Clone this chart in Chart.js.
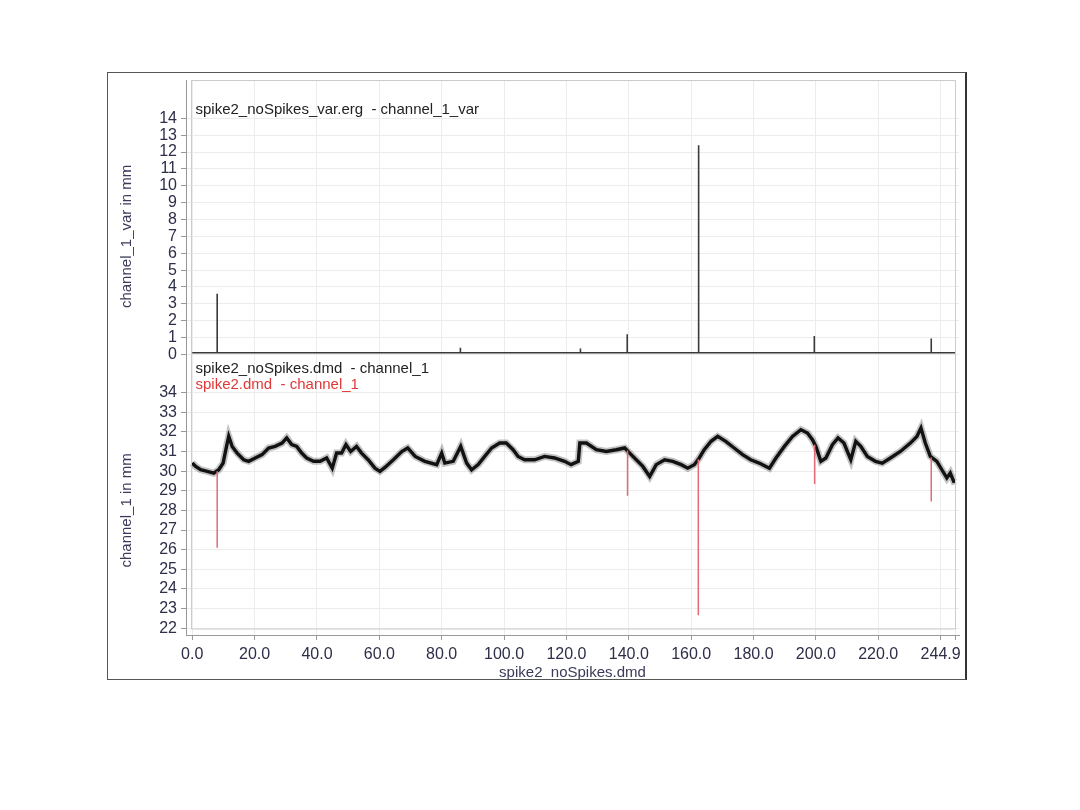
<!DOCTYPE html>
<html>
<head>
<meta charset="utf-8">
<script src="https://cdn.jsdelivr.net/npm/chart.js@4.4.1/dist/chart.umd.min.js"></script>
<style>
  html, body { margin: 0; padding: 0; background: #fff; }
  #wrap { position: relative; width: 1080px; height: 810px; }
  #frame {
    position: absolute; left: 107px; top: 72px; width: 857px; height: 606px;
    border: 1px solid #555; border-right: 2px solid #333; pointer-events: none;
  }
</style>
</head>
<body>
<div id="wrap">
  <canvas id="c" width="1080" height="810"></canvas>
  <div id="frame"></div>
</div>
<script>
// x range of the record
const xEnd = 244.9;
const xTicks = [0, 20, 40, 60, 80, 100, 120, 140, 160, 180, 200, 220, 240, 244.9];

// upper panel: channel_1_var spikes
const varT = [8.0, 86.0, 124.5, 139.5, 162.4, 199.5, 237.0];
const varV = [3.6, 0.4, 0.35, 1.2, 12.4, 1.1, 0.95];
const varBase = 0.1;

// lower panel: channel_1 without spikes
const dmdT = [0.0, 1.1, 2.7, 4.8, 6.9, 8.5, 9.9, 11.0, 11.7, 12.8, 14.4, 16.5, 18.1, 20.2, 22.4, 24.5,
  26.6, 28.8, 30.3, 31.9, 33.5, 35.1, 36.7, 38.9, 41.0, 43.1, 44.9, 46.3, 47.9, 49.3, 50.8, 52.7,
  54.3, 56.4, 58.6, 60.2, 61.9, 64.5, 67.2, 69.1, 71.5, 74.6, 78.4, 80.0, 81.0, 83.7, 86.1, 88.0,
  89.6, 91.7, 93.8, 96.0, 98.6, 100.7, 102.9, 104.5, 106.6, 109.8, 113.0, 116.2, 119.4, 121.5, 123.8,
  124.3, 126.4, 129.6, 132.8, 136.0, 138.7, 140.3, 142.4, 144.5, 146.7, 148.8, 151.5, 154.1, 156.8,
  158.9, 161.0, 162.6, 164.2, 166.4, 168.5, 171.1, 173.8, 176.5, 179.1, 181.8, 185.1, 187.2, 189.9,
  192.5, 195.2, 197.3, 198.9, 200.0, 201.6, 203.2, 205.3, 207.1, 209.0, 211.2, 212.8, 214.4, 216.5,
  219.1, 221.3, 223.9, 227.1, 230.3, 232.4, 233.7, 235.1, 236.7, 238.8, 240.4, 242.0, 243.1, 244.2, 244.9];
const dmdV = [30.41, 30.24, 30.07, 29.99, 29.9, 30.07, 30.41, 31.26, 31.77, 31.26, 30.92, 30.58, 30.5, 30.67, 30.84, 31.18,
  31.26, 31.43, 31.69, 31.35, 31.26, 30.92, 30.67, 30.5, 30.5, 30.67, 30.15, 30.92, 30.92, 31.35, 31.0, 31.26,
  30.92, 30.58, 30.15, 29.99, 30.2, 30.58, 31.0, 31.18, 30.75, 30.5, 30.33, 30.92, 30.41, 30.5, 31.26, 30.41,
  30.07, 30.33, 30.75, 31.18, 31.43, 31.43, 31.09, 30.75, 30.58, 30.58, 30.75, 30.67, 30.5, 30.33, 30.5,
  31.43, 31.43, 31.09, 31.0, 31.09, 31.18, 30.92, 30.58, 30.24, 29.73, 30.33, 30.58, 30.5, 30.33,
  30.15, 30.33, 30.67, 31.09, 31.52, 31.77, 31.52, 31.18, 30.84, 30.58, 30.41, 30.15, 30.67, 31.26,
  31.77, 32.11, 31.94, 31.6, 31.26, 30.5, 30.67, 31.35, 31.69, 31.43, 30.58, 31.52, 31.26, 30.75,
  30.5, 30.41, 30.67, 31.0, 31.43, 31.77, 32.2, 31.43, 30.75, 30.5, 30.07, 29.65, 29.9, 29.48, 29.5];

// original channel_1: spikes that were removed
const spikeT = [8.0, 139.6, 162.3, 199.6, 237.0];
const spikeTop = [30.0, 31.05, 30.6, 31.35, 30.7];
const spikeLow = [26.1, 28.75, 22.65, 29.35, 28.45];

const varPts = [{ x: 0, y: varBase }];
varT.forEach((t, i) => {
    varPts.push({ x: t, y: varBase }, { x: t, y: varV[i] }, { x: t, y: varBase });
});
varPts.push({ x: xEnd, y: varBase });

const dmdPts = dmdT.map((t, i) => ({ x: t, y: dmdV[i] }));

const redPts = [];
spikeT.forEach((t, i) => {
    redPts.push({ x: t, y: spikeTop[i] }, { x: t, y: spikeLow[i] }, { x: t, y: null });
});

const tickFont = { family: 'Liberation Sans, Arial', size: 16 };
const tickColor = '#2e2e48';
const gridColor = '#ececec';

const decor = {
    id: 'decor',
    afterDraw(chart) {
        const { ctx, scales, chartArea } = chart;
        const x = scales.x, yt = scales.yTop, yb = scales.yBot;
        ctx.save();
        // inner plot frame
        ctx.strokeStyle = '#cccccc';
        ctx.lineWidth = 1;
        const l = Math.round(x.getPixelForValue(0)) - 0.5;
        const r = Math.round(x.getPixelForValue(xEnd)) - 0.5;
        const b = Math.round(yb.getPixelForValue(22)) + 0.5;
        ctx.strokeRect(l, chartArea.top + 0.5, r - l, b - chartArea.top);

        // series captions
        ctx.font = '15px Liberation Sans, Arial';
        ctx.textBaseline = 'middle';
        ctx.textAlign = 'left';
        ctx.fillStyle = '#222';
        ctx.fillText('spike2_noSpikes_var.erg  - channel_1_var', l + 4, yt.getPixelForValue(14) - 8);
        ctx.fillText('spike2_noSpikes.dmd  - channel_1', l + 4, yb.getPixelForValue(34) - 24);
        ctx.fillStyle = '#e03838';
        ctx.fillText('spike2.dmd  - channel_1', l + 4, yb.getPixelForValue(34) - 8);

        // y axis titles, centred on the tick range
        ctx.fillStyle = '#3a3a5a';
        ctx.textAlign = 'center';
        const tx = chartArea.left - 59;
        [[yt, 0, 14, 'channel_1_var in mm'], [yb, 22, 34, 'channel_1 in mm']].forEach(([s, lo, hi, txt]) => {
            const cy = (s.getPixelForValue(lo) + s.getPixelForValue(hi)) / 2;
            ctx.save();
            ctx.translate(tx, cy);
            ctx.rotate(-Math.PI / 2);
            ctx.fillText(txt, 0, 0);
            ctx.restore();
        });
        ctx.restore();
    }
};

function intTicks(lo, hi) {
    return scale => {
        const t = [];
        for (let v = lo; v <= hi; v++) t.push({ value: v });
        scale.ticks = t;
    };
}

new Chart(document.getElementById('c'), {
    type: 'line',
    data: {
        datasets: [
            {
                data: varPts,
                yAxisID: 'yTop',
                borderColor: '#3a3a3a',
                borderWidth: 1.6,
                pointRadius: 0,
                tension: 0
            },
            {
                data: redPts,
                yAxisID: 'yBot',
                borderColor: '#e46a78',
                borderWidth: 1.5,
                pointRadius: 0,
                spanGaps: false
            },
            {
                data: dmdPts,
                yAxisID: 'yBot',
                borderColor: 'rgba(40,40,40,0.28)',
                borderWidth: 7,
                pointRadius: 0,
                tension: 0
            },
            {
                data: dmdPts,
                yAxisID: 'yBot',
                borderColor: '#0a0a0a',
                borderWidth: 3.4,
                pointRadius: 0,
                tension: 0
            }
        ]
    },
    options: {
        responsive: false,
        animation: false,
        layout: { padding: { left: 126, right: 121, top: 80, bottom: 128 } },
        plugins: {
            legend: { display: false },
            tooltip: { enabled: false }
        },
        scales: {
            x: {
                type: 'linear',
                min: -2,
                max: xEnd + 1,
                afterBuildTicks: s => { s.ticks = xTicks.map(v => ({ value: v })); },
                afterFit: s => { s.height = 47; },
                grid: { color: gridColor, tickLength: 5, tickColor: '#999' },
                border: { color: '#999' },
                ticks: {
                    font: tickFont,
                    color: tickColor,
                    padding: 5,
                    maxRotation: 0,
                    autoSkip: false,
                    callback: v => v === xEnd ? '' : v === 240 ? xEnd.toFixed(1) : v.toFixed(1)
                },
                title: {
                    display: true,
                    text: 'spike2_noSpikes.dmd',
                    font: { family: 'Liberation Sans, Arial', size: 15 },
                    color: '#3a3a5a',
                    padding: { top: 0, bottom: 0 }
                }
            },
            yBot: {
                type: 'linear',
                position: 'left',
                stack: 'panels',
                stackWeight: 1,
                min: 21.65,
                max: 35.79,
                afterBuildTicks: intTicks(22, 34),
                afterFit: s => { s.width = 60; },
                grid: { color: gridColor, tickLength: 5, tickColor: '#999' },
                border: { color: '#999' },
                ticks: { font: tickFont, color: tickColor, padding: 4, autoSkip: false }
            },
            yTop: {
                type: 'linear',
                position: 'left',
                stack: 'panels',
                stackWeight: 1,
                min: -0.18,
                max: 16.27,
                afterBuildTicks: intTicks(0, 14),
                afterFit: s => { s.width = 60; },
                grid: { color: gridColor, tickLength: 5, tickColor: '#999' },
                border: { color: '#999' },
                ticks: { font: tickFont, color: tickColor, padding: 4, autoSkip: false }
            }
        }
    },
    plugins: [decor]
});
</script>
</body>
</html>
